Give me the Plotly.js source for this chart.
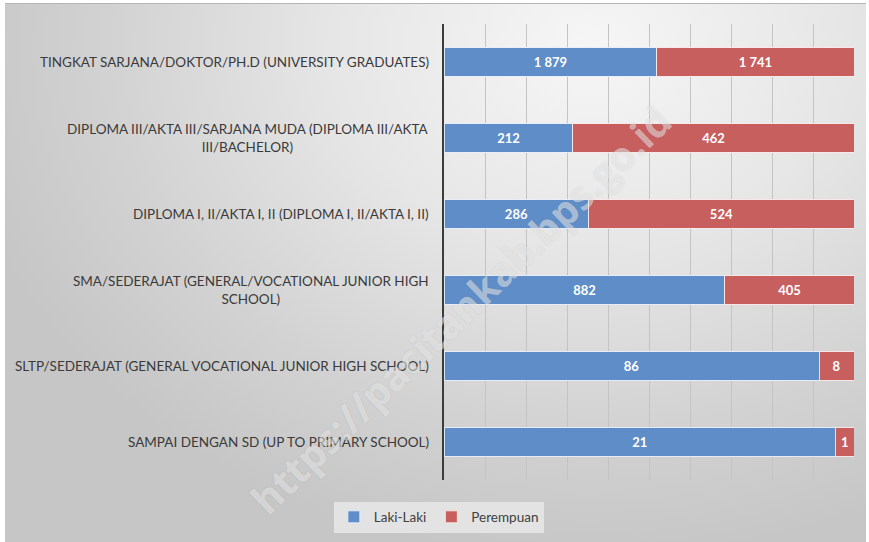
<!DOCTYPE html>
<html>
<head>
<meta charset="utf-8">
<script src="https://cdn.plot.ly/plotly-3.0.1.min.js"></script>
<style>
  html, body { margin:0; padding:0; background:#ffffff; }
  #bg { position:absolute; left:5px; top:3px; width:861px; height:539px;
        border-top:1px solid #b5b5b5;
        background: radial-gradient(ellipse 75% 95% at 68% 8%, #f6f6f6 0%, #e6e6e6 40%, #d2d2d2 75%, #c6c6c6 100%); }
  #chart { position:absolute; left:0; top:0; width:869px; height:542px; }
</style>
</head>
<body>
<div id="bg"></div>
<div id="chart"></div>
<script>
const categories = [
  "TINGKAT SARJANA/DOKTOR/PH.D (UNIVERSITY GRADUATES)",
  "DIPLOMA III/AKTA III/SARJANA MUDA (DIPLOMA III/AKTA<br>III/BACHELOR)",
  "DIPLOMA I, II/AKTA I, II (DIPLOMA I, II/AKTA I, II)",
  "SMA/SEDERAJAT (GENERAL/VOCATIONAL JUNIOR HIGH<br>SCHOOL)",
  "SLTP/SEDERAJAT (GENERAL VOCATIONAL JUNIOR HIGH SCHOOL)",
  "SAMPAI DENGAN SD (UP TO PRIMARY SCHOOL)"
];
const lakiLaki  = [1879, 212, 286, 882, 86, 21];
const perempuan = [1741, 462, 524, 405, 8, 1];
const seriesNames = ["Laki-Laki", "Perempuan"];

function fmt(v){ return String(v).replace(/\B(?=(\d{3})+(?!\d))/g, " "); }

const labelFont = {family:"Lato, 'Open Sans', sans-serif", size:13.5, color:"#3a3a3a"};
const dataFont = {family:"Lato, 'Open Sans', sans-serif", size:13, color:"#ffffff", weight:700};

const traces = [
  {type:"bar", orientation:"h", name:seriesNames[0], y:categories, x:lakiLaki,
   text:lakiLaki.map(fmt), textposition:"inside", insidetextanchor:"middle",
   textangle:0, constraintext:"none", textfont:dataFont, hoverinfo:"none",
   marker:{color:"#5f8dc7", line:{color:"rgba(230,238,250,0.9)", width:1}}},
  {type:"bar", orientation:"h", name:seriesNames[1], y:categories, x:perempuan,
   text:perempuan.map(fmt), textposition:"inside", insidetextanchor:"middle",
   textangle:0, constraintext:"none", textfont:dataFont, hoverinfo:"none",
   marker:{color:"#c75f5f", line:{color:"rgba(250,232,232,0.9)", width:1}}}
];

const annotations = categories.map(c => ({
  xref:"paper", yref:"y", x:0, y:c, xanchor:"right", yanchor:"middle",
  xshift:-13, text:c, align:"center", showarrow:false, font:labelFont
}));
annotations.push({
  xref:"paper", yref:"paper", x:0.04, y:0.375, xanchor:"center", yanchor:"middle",
  text:"https://pacitankab.bps.go.id", textangle:-44, showarrow:false,
  font:{family:"'Open Sans', sans-serif", size:40, weight:700, color:"rgba(255,255,255,0.45)",
        shadow:"0px 0px 1.5px rgba(120,120,120,0.5)"}
});

const layout = {
  width:869, height:542,
  margin:{l:444, r:15, t:24, b:62},
  paper_bgcolor:"rgba(0,0,0,0)", plot_bgcolor:"rgba(0,0,0,0)",
  barmode:"stack", barnorm:"percent", bargap:0.63,
  separators:". ",
  xaxis:{range:[0,100], dtick:10, showgrid:true, gridcolor:"#c4c4c4", gridwidth:1,
         showticklabels:false, zeroline:false, showline:false, fixedrange:true},
  yaxis:{autorange:"reversed", showticklabels:false, showline:true, linecolor:"#3c3c3c",
         linewidth:2, showgrid:false, zeroline:false},
  showlegend:true,
  legend:{orientation:"h", xref:"container", yref:"container", x:0.505, y:0.046,
          xanchor:"center", yanchor:"middle", bgcolor:"#e3e3e3",
          font:{family:"Lato, 'Open Sans', sans-serif", size:13.5, color:"#404040"},
          itemwidth:30, entrywidth:0, traceorder:"normal"},
  annotations:annotations
};

Plotly.newPlot("chart", traces, layout, {displayModeBar:false, staticPlot:true});
</script>
</body>
</html>
